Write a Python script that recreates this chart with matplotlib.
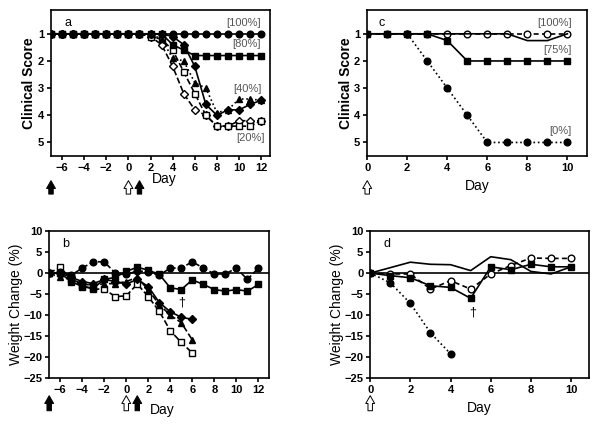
import matplotlib
matplotlib.use('Agg')
import matplotlib.pyplot as plt

plt.rcParams['font.family'] = ['Liberation Sans', 'DejaVu Sans']
plt.rcParams['font.size'] = 8

# ---- panel a: clinical score, days -7..12
days_a = list(range(-7, 13))
a_circle = [1] * 20
a_square = [1] * 11 + [1.4, 1.6, 1.8, 1.8, 1.8, 1.8, 1.8, 1.8, 1.8]
a_diamond = [1] * 11 + [1.1, 1.4, 2.2, 3.6, 4.0, 3.8, 3.8, 3.6, 3.45]
a_triangle = [1] * 10 + [1.2, 1.9, 2.0, 2.8, 3.0, 3.9, 3.8, 3.4, 3.4, 3.45]
a_open_sq = [1] * 9 + [1.1, 1.2, 1.6, 2.4, 3.2, 4.0, 4.4, 4.4, 4.4, 4.4, 4.2]
a_open_dm = [1] * 9 + [1.1, 1.4, 2.2, 3.2, 3.8, 4.0, 4.4, 4.4, 4.2, 4.2, 4.2]

# ---- panel b: weight change, days -7..6 / -7..12
days_b = list(range(-7, 13))
days_b_short = list(range(-7, 7))
b_circle = [0, 0.2, -0.5, 1.2, 2.7, 2.7, 0, -0.3, 0.5, 0.3, -0.5, 1.2, 1.2, 2.7,
            1.2, -0.2, -0.2, 1.2, -1.5, 1.2]
b_square = [0, 0, -2, -3.2, -3.6, -1.5, -1, 0.4, 1.4, 0.7, -0.3, -3.5, -3.9, -1.6,
            -2.7, -3.9, -4.3, -3.9, -4.3, -2.7]
b_diamond = [0, 0, -1, -2, -2.5, -1.5, -2, -2.6, -1.5, -3.2, -7, -9.2, -10.5, -11]
b_triangle = [0, -1, -1.5, -2.5, -3, -2.5, -2.5, -2, -1, -4, -7.5, -10, -11.8, -15.9]
b_open_sq = [0, 1.4, -1.5, -3, -3.8, -3.8, -5.6, -5.4, -2.6, -5.6, -9.1, -13.7,
             -16.5, -19]

# ---- panel c: clinical score, days 0..10
days_c = list(range(0, 11))
c_open = [1] * 11
c_line = [1, 1, 1, 1, 1, 1, 1, 1, 1.25, 1.25, 1]
c_square = [1, 1, 1, 1, 1.25, 2, 2, 2, 2, 2, 2]
c_circle_days = list(range(2, 11))
c_circle = [1, 2, 3, 4, 5, 5, 5, 5, 5]

# ---- panel d: weight change, days 0..10
days_d = list(range(0, 11))
d_line = [0, 1.3, 2.6, 2.1, 2.0, 0.6, 3.9, 3.2, 0.4, -0.2, 1.5]
d_square = [0, -0.6, -1.1, -3.0, -3.4, -6.0, 1.5, 0.8, 2.1, 1.5, 1.5]
d_open = [0, -0.2, -0.2, -3.8, -1.8, -3.8, -0.2, 1.8, 3.6, 3.5, 3.5]
d_circle_days = [0, 1, 2, 3, 4]
d_circle = [0, -2.3, -7.2, -14.2, -19.2]

fig = plt.figure(figsize=(6, 4.24), dpi=100)
ax_a = fig.add_axes([0.085, 0.632, 0.365, 0.344])
ax_c = fig.add_axes([0.612, 0.632, 0.367, 0.344])
ax_b = fig.add_axes([0.082, 0.108, 0.367, 0.347])
ax_d = fig.add_axes([0.617, 0.108, 0.365, 0.347])

ms = 4.8
lw = 1.2
gray = '#555555'


def style(ax):
    for s in ax.spines.values():
        s.set_linewidth(1.2)
    ax.tick_params(direction='out', width=1.2, length=3, labelsize=8, pad=2)
    for lab in ax.get_xticklabels() + ax.get_yticklabels():
        lab.set_fontweight('bold')


def arrow(ax, x, hollow=False, y0=-0.28, y1=-0.15):
    fc = 'white' if hollow else 'black'
    ax.annotate('', xy=(x, y1), xytext=(x, y0),
                xycoords=('data', 'axes fraction'),
                textcoords=('data', 'axes fraction'),
                arrowprops=dict(arrowstyle='simple,head_width=0.8,head_length=0.7,tail_width=0.4',
                                fc=fc, ec='black', lw=0.7), annotation_clip=False)


# panel a
ax = ax_a
ax.plot(days_a, a_open_dm, 'k--', marker='D', ms=3.8, mfc='white', lw=lw)
ax.plot(days_a, a_open_sq, 'k--', marker='s', ms=ms, mfc='white', lw=lw)
ax.plot(days_a, a_triangle, 'k:', marker='^', ms=ms, lw=lw)
ax.plot(days_a, a_diamond, 'k-', marker='D', ms=3.8, lw=lw)
ax.plot(days_a, a_circle, 'k-', marker='o', ms=ms, lw=lw)
ax.plot(days_a, a_square, 'k-', marker='s', ms=ms, lw=lw)
ax.set_xlim(-7, 12.8)
ax.set_ylim(5.5, 0.13)
ax.set_xticks(range(-6, 13, 2))
ax.set_yticks([1, 2, 3, 4, 5])
ax.set_ylabel('Clinical Score', fontsize=10, fontweight='bold', labelpad=1)
ax.text(0.06, 0.91, 'a', transform=ax.transAxes, fontsize=9, va='center')
ax.text(12.0, 0.7, '[100%]', ha='right', color=gray, fontsize=8)
ax.text(12.0, 1.5, '[80%]', ha='right', color=gray, fontsize=8)
ax.text(12.0, 3.15, '[40%]', ha='right', color=gray, fontsize=8)
ax.text(12.3, 4.95, '[20%]', ha='right', color=gray, fontsize=8)
ax.text(2.1, 6.35, 'Day', fontsize=10, va='center', clip_on=False)
arrow(ax, -7)
arrow(ax, 0, hollow=True)
arrow(ax, 1)
style(ax)

# panel c
ax = ax_c
ax.plot(days_c, c_open, 'k--', marker='o', ms=ms, mfc='white', lw=lw, dashes=(3, 2))
ax.plot(days_c, c_line, 'k-', lw=lw)
ax.plot(days_c, c_square, 'k-', marker='s', ms=ms, lw=lw)
ax.plot(c_circle_days, c_circle, 'k:', marker='o', ms=ms, lw=lw)
ax.set_xlim(0, 11)
ax.set_ylim(5.5, 0.13)
ax.set_xticks(range(0, 11, 2))
ax.set_yticks([1, 2, 3, 4, 5])
ax.set_ylabel('Clinical Score', fontsize=10, fontweight='bold', labelpad=1)
ax.set_xlabel('Day', fontsize=10, labelpad=4)
ax.text(0.05, 0.91, 'c', transform=ax.transAxes, fontsize=9, va='center')
ax.text(10.2, 0.7, '[100%]', ha='right', color=gray, fontsize=8)
ax.text(10.2, 1.7, '[75%]', ha='right', color=gray, fontsize=8)
ax.text(10.2, 4.7, '[0%]', ha='right', color=gray, fontsize=8)
arrow(ax, 0, hollow=True)
style(ax)

# panel b
ax = ax_b
ax.axhline(0, color='black', lw=1.2)
ax.plot(days_b_short, b_open_sq, 'k--', marker='s', ms=ms, mfc='white', lw=lw)
ax.plot(days_b_short, b_triangle, 'k--', marker='^', ms=ms, lw=lw)
ax.plot(days_b_short, b_diamond, 'k-', marker='D', ms=3.8, lw=lw)
ax.plot(days_b, b_circle, 'k--', marker='o', ms=ms, lw=lw)
ax.plot(days_b, b_square, 'k-', marker='s', ms=ms, lw=lw)
ax.set_xlim(-7, 13)
ax.set_ylim(-25, 10)
ax.set_xticks(range(-6, 13, 2))
ax.set_yticks(range(-25, 11, 5))
ax.set_ylabel('Weight Change (%)', fontsize=10, labelpad=0)
ax.text(0.06, 0.91, 'b', transform=ax.transAxes, fontsize=9, va='center')
ax.text(5, -7, '\u2020', ha='center', va='center', fontsize=9)
ax.text(2.1, -32.5, 'Day', fontsize=10, va='center', clip_on=False)
arrow(ax, -7, y0=-0.24, y1=-0.1)
arrow(ax, 0, hollow=True, y0=-0.24, y1=-0.1)
arrow(ax, 1, y0=-0.24, y1=-0.1)
style(ax)

# panel d
ax = ax_d
ax.axhline(0, color='black', lw=1.2)
ax.plot(days_d, d_line, 'k-', lw=lw)
ax.plot(days_d, d_open, 'k--', marker='o', ms=ms, mfc='white', lw=lw, dashes=(3, 2))
ax.plot(days_d, d_square, 'k-', marker='s', ms=ms, lw=lw)
ax.plot(d_circle_days, d_circle, 'k:', marker='o', ms=ms, lw=lw)
ax.set_xlim(0, 10.9)
ax.set_ylim(-25, 10)
ax.set_xticks(range(0, 11, 2))
ax.set_yticks(range(-25, 11, 5))
ax.set_ylabel('Weight Change (%)', fontsize=10, labelpad=0)
ax.set_xlabel('Day', fontsize=10, labelpad=4)
ax.text(0.06, 0.91, 'd', transform=ax.transAxes, fontsize=9, va='center')
ax.text(5.1, -9.4, '\u2020', ha='center', va='center', fontsize=9)
arrow(ax, 0, hollow=True, y0=-0.24, y1=-0.1)
style(ax)

fig.savefig('out.png', dpi=100)
